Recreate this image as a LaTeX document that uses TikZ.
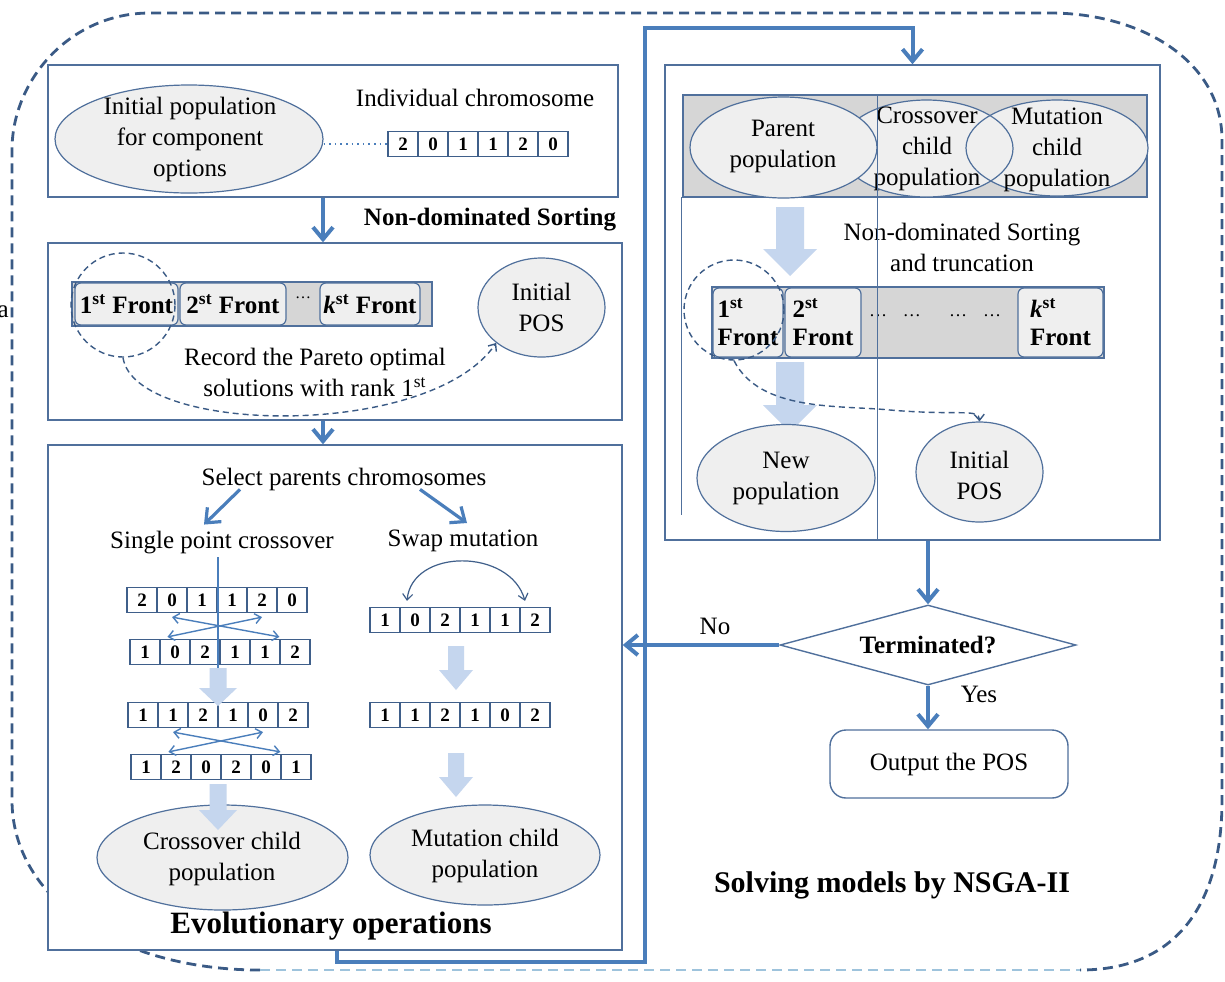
\documentclass[tikz,border=0pt]{standalone}
\usepackage{fontspec}
\setmainfont{Liberation Serif}
\usetikzlibrary{shapes.geometric,arrows.meta,calc}
\definecolor{framecol}{HTML}{50709C}
\definecolor{flowcol}{HTML}{4A7EBB}
\definecolor{dashcol}{HTML}{3A5A85}
\definecolor{lightdash}{HTML}{9EC3DC}
\definecolor{ellfill}{HTML}{EFEFEF}
\definecolor{bandfill}{HTML}{D6D6D6}
\definecolor{pale}{HTML}{C5D6EE}
\definecolor{cellline}{HTML}{3F5F8A}

% one chromosome: name prefix, x of first gene, y, genes
\newcommand\chromo[4]{\foreach \d [count=\i] in {#4} {\node[cell] (#1\i) at ({#2+30*(\i-1)},#3) {\d};}}
% broad pale arrow: x, top, tip, half shaft, half head, head length
\newcommand\fatarrow[6]{\fill[pale] ({#1-#4},#2) -- ({#1+#4},#2) -- ({#1+#4},{#3-#6}) -- ({#1+#5},{#3-#6}) -- (#1,#3) -- ({#1-#5},{#3-#6}) -- ({#1-#4},{#3-#6}) -- cycle;}

\begin{document}
\begin{tikzpicture}[x=0.5pt,y=-0.5pt,
  every node/.style={font=\fontsize{12.5}{15.5}\selectfont},
  panel/.style={draw=framecol, line width=0.7pt, inner sep=0, fill=white},
  oval/.style={ellipse, draw=framecol, fill=ellfill, line width=0.6pt, inner sep=0},
  cell/.style={draw=cellline, line width=0.6pt, minimum width=15pt, minimum height=12.5pt, inner sep=0, font=\bfseries\fontsize{9.5}{10}\selectfont},
  front/.style={draw=framecol, fill=ellfill, rounded corners=3pt, line width=0.6pt, inner sep=0, font=\bfseries\fontsize{12.5}{14}\selectfont},
  band/.style={draw=framecol, fill=bandfill, line width=0.6pt, inner sep=0},
  flow/.style={draw=flowcol, line width=2pt, -{Straight Barb[length=6pt,width=10pt]}},
  ring/.style={circle, draw=dashcol, dash pattern=on 3pt off 2pt, line width=0.7pt, inner sep=0},
  dashflow/.style={draw=dashcol, dash pattern=on 3pt off 2pt, line width=0.7pt, -{Straight Barb[length=3pt,width=5pt]}},
  xover/.style={draw=flowcol, line width=0.7pt, {Straight Barb[length=3pt,width=5pt]}-{Straight Barb[length=3pt,width=5pt]}},
  outer/.style={draw=dashcol, line width=1.4pt, dash pattern=on 5pt off 3pt},
  bold/.style={font=\bfseries\fontsize{12.5}{15}\selectfont}
]
\useasboundingbox (0,0) rectangle (1225,981);

% surrounding dashed frame
\draw[outer] (260,970) .. controls (120,970) and (12,900) .. (12,800) -- (12,150)
  .. controls (12,80) and (70,13) .. (150,13) -- (1050,13)
  .. controls (1140,13) and (1222,60) .. (1222,140) -- (1222,800)
  .. controls (1222,900) and (1180,970) .. (1080,970);
\draw[outer, draw=lightdash] (260,970) -- (1080,970);
\node[anchor=east, inner sep=0] (edgeA) at (9,312) {a};

% panels
\node[panel, minimum width=285pt, minimum height=66pt] (b1) at (333,131) {};
\node[panel, minimum width=287pt, minimum height=88.5pt] (b2) at (335,331.5) {};
\node[panel, minimum width=287pt, minimum height=252.5pt] (b3) at (335,697.5) {};
\node[panel, minimum width=247.5pt, minimum height=237.5pt] (b4) at (912.5,302.5) {};

\coordinate (spine) at (323,0);
\coordinate (lpA) at (337,962);
\coordinate (lpB) at (645,28);
\draw[flow] (b3.south -| lpA) -- (lpA) -- (lpA -| lpB) -- (lpB) -- (lpB -| b4.north) -- (b4.north);

% initial population
\node[oval, minimum width=134pt, minimum height=54pt] (ip) at (189,139) {};
\node[align=center] (ipT) at (190,139) {Initial population\\for component\\options};
\node (indT) at (475,98) {Individual chromosome};
\chromo{K}{403}{144}{2,0,1,1,2,0}
\draw[dotted, flowcol, line width=0.8pt] ([yshift=-2.5pt]ip.east) -- (K1.west);

\draw[flow] (b1.south -| spine) -- (b2.north -| spine);
\node[bold] (nds) at (490,220) {Non-dominated Sorting};

% sorted fronts
\node[band, minimum width=180pt, minimum height=22pt] (bar1) at (252,304) {};
\node[front, minimum width=51.5pt, minimum height=21pt] (f11) at (126.5,304) {1\textsuperscript{st} Front};
\node[front, minimum width=53pt, minimum height=21pt] (f12) at (233,304) {2\textsuperscript{st} Front};
\node[font=\fontsize{8}{9}\selectfont, inner sep=0] (f1d) at (303,298) {\dots};
\node[front, minimum width=50pt, minimum height=21pt] (f1k) at (370,304) {\textit{k}\textsuperscript{st} Front};
\node[ring, minimum size=52pt] (ring1) at (123,305) {};
\node[oval, minimum width=63.5pt, minimum height=49.5pt] (pos1) at (541.5,307.5) {};
\node[align=center] (pos1T) at (pos1) {Initial\\POS};
\node[align=center] (rec) at (315,372) {Record the Pareto optimal\\solutions with rank 1\textsuperscript{st}};
\draw[dashflow] (ring1.south) .. controls (135,435) and (430,440) .. (pos1.south west);

\draw[flow] (b2.south -| spine) -- (b3.north -| spine);

% evolutionary operations
\node (sel) at (344,479) {Select parents chromosomes};
\node (spc) at (222,543) {Single point crossover};
\node (swp) at (463,541) {Swap mutation};
\draw[flow, line width=1.6pt] ([xshift=-52pt,yshift=4pt]sel.south) -- ([xshift=-9pt]spc.north);
\draw[flow, line width=1.6pt] ([xshift=38pt,yshift=4pt]sel.south) -- ([xshift=2pt]swp.north);

\chromo{A}{142}{600}{2,0,1,1,2,0}
\chromo{B}{145}{652}{1,0,2,1,1,2}
\chromo{C}{143}{715}{1,1,2,1,0,2}
\chromo{D}{146}{767}{1,2,0,2,0,1}
\chromo{E}{385}{620}{1,0,2,1,1,2}
\chromo{F}{385}{715}{1,1,2,1,0,2}

\coordinate (cutEnd) at (218,668);
\draw[flowcol, line width=0.8pt] ([xshift=-2pt,yshift=2pt]spc.south) -- (cutEnd);
\draw[xover] ([yshift=-2pt]A2.south) -- ([yshift=1pt]B6.north west);
\draw[xover] ([yshift=-2pt]A5.south) -- ([xshift=4pt,yshift=1pt]B2.north west);
\draw[xover] ([yshift=-2pt]C2.south) -- ([yshift=1pt]D6.north west);
\draw[xover] ([yshift=-2pt]C5.south) -- ([xshift=4pt,yshift=1pt]D2.north west);
\draw[draw=cellline, line width=0.6pt, {Straight Barb[length=3pt,width=5pt]}-{Straight Barb[length=3pt,width=5pt]}]
  ([xshift=-4pt,yshift=3pt]E2.north) .. controls (412,548) and (510,548) .. ([xshift=10pt,yshift=3pt]E5.north);

\node[oval, minimum width=125.5pt, minimum height=52.5pt] (cco1) at (222.5,857.5) {};
\node[align=center] (cco1T) at (222,859) {Crossover child\\population};
\node[oval, minimum width=115pt, minimum height=50pt] (mco1) at (485,855) {};
\node[align=center] (mco1T) at (485,856) {Mutation child\\population};

\fatarrow{218}{668}{706}{8.5}{19}{18}
\fatarrow{218}{784}{830}{8.5}{19}{20}
\fatarrow{456}{646}{690}{8}{17}{20}
\fatarrow{456}{753}{797}{8}{17}{20}

\node[font=\bfseries\fontsize{15.5}{18}\selectfont] (evo) at (331,926) {Evolutionary operations};

% NSGA-II loop
\node[band, minimum width=232pt, minimum height=51pt] (band2) at (915,146) {};
\node[ellipse, fill=ellfill, inner sep=0, minimum width=86.5pt, minimum height=48.5pt] (cco2) at (926.5,148.5) {};
\node[ellipse, fill=ellfill, inner sep=0, minimum width=91pt, minimum height=48pt] (mco2) at (1057,148) {};
\draw[framecol, line width=0.6pt] (cco2.center) ellipse [x radius=43.25pt, y radius=24.25pt];
\draw[framecol, line width=0.6pt] (mco2.center) ellipse [x radius=45.5pt, y radius=24pt];
\node[oval, minimum width=93.5pt, minimum height=50.5pt] (par2) at (783.5,147.5) {};
\node[align=center] (par2T) at (783,146) {Parent\\population};
\node[align=center] (cco2T) at (927,149) {Crossover\\child\\population};
\node[align=center] (mco2T) at (1057,150) {Mutation\\child\\population};

\fatarrow{790}{207}{276}{14}{27}{27}
\node[align=center] (ndt) at (962,247) {Non-dominated Sorting\\and truncation};

\node[band, minimum width=196pt, minimum height=35.5pt] (bar2) at (908,322.5) {};
\node[front, align=left, minimum width=35pt, minimum height=34.5pt] (f21) at (748,322.5) {1\textsuperscript{st}\\Front};
\node[front, align=left, minimum width=38pt, minimum height=34.5pt] (f22) at (823,322.5) {2\textsuperscript{st}\\Front};
\node[font=\fontsize{9}{10}\selectfont, inner sep=0] (f2d) at (935,316) {\dots\hspace{8pt}\dots\hspace{14pt}\dots\hspace{8pt}\dots};
\node[front, align=left, minimum width=42.5pt, minimum height=34.5pt] (f2k) at (1060.5,322.5) {\textit{k}\textsuperscript{st}\\Front};
\node[ring, minimum size=50pt] (ring2) at (734,310) {};

\fatarrow{790}{362}{432}{14}{27}{27}
\node[oval, minimum width=89pt, minimum height=53.5pt] (newp) at (786,478) {};
\node[align=center] (newpT) at (786,478) {New\\population};
\node[oval, minimum width=63.5pt, minimum height=50pt] (pos2) at (979.5,472) {};
\node[align=center] (pos2T) at (979.5,475) {Initial\\POS};
\draw[dashflow] (ring2.south) .. controls (760,412) and (840,405) .. (890,410)
  .. controls (960,416) and (979,408) .. (pos2.north);

\draw[framecol, line width=0.4pt] (877,95) -- (877,540);
\draw[framecol, line width=0.4pt] (681,197) -- (681,515);

% termination test
\node[diamond, draw=framecol, line width=0.7pt, aspect=3.7, minimum width=148pt, minimum height=40pt, inner sep=0, bold] (dia) at (928,645) {Terminated?};
\draw[flow] (b4.south -| dia.north) -- (dia.north);
\node[panel, rounded corners=8pt, minimum width=119pt, minimum height=34pt] (outp) at (949,764) {Output the POS};
\draw[flow] (dia.south) -- (dia.south |- outp.north);
\draw[flow] (dia.west) -- (dia.west -| b3.east);
\node (noT) at (715,626) {No};
\node (yesT) at (979,694) {Yes};
\node[font=\bfseries\fontsize{15}{18}\selectfont] (solv) at (892,885) {Solving models by NSGA-II};
\end{tikzpicture}
\end{document}
